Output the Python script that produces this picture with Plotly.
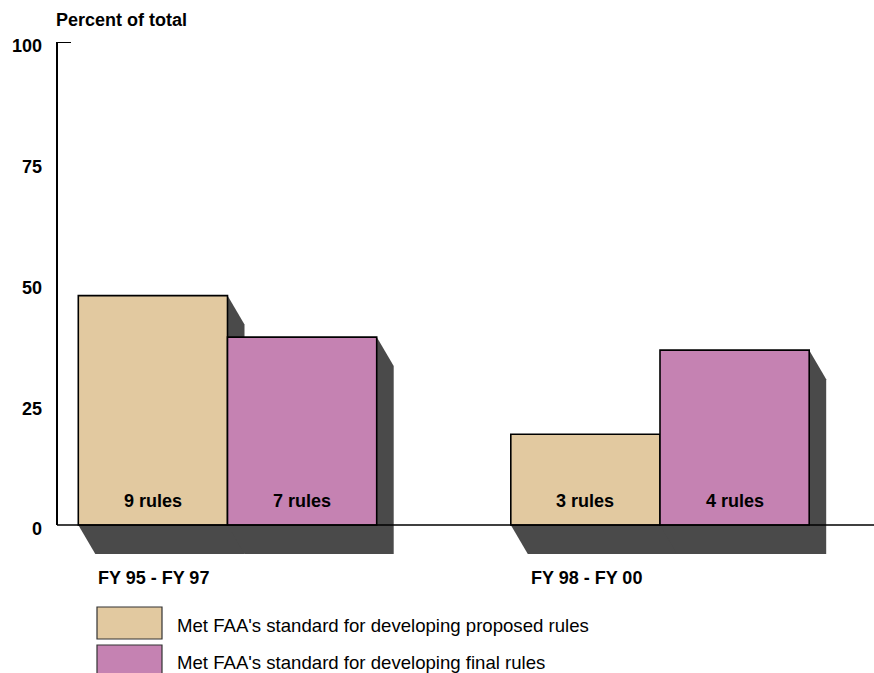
import plotly.graph_objects as go

# ---- data ----
periods = ["FY 95 - FY 97", "FY 98 - FY 00"]
proposed_pct = [47.5, 18.8]
final_pct = [38.9, 36.2]
proposed_rules = ["9 rules", "3 rules"]
final_rules = ["7 rules", "4 rules"]
series_names = ["Met FAA's standard for developing proposed rules",
                "Met FAA's standard for developing final rules"]
y_ticks = [0, 25, 50, 75, 100]

# ---- styling ----
W, H = 874, 673
ML, MR, MT, MB = 57, 0, 42, 113
TAN = "#E2C9A0"
PINK = "#C582B2"
SHADOW = "#4A4A4A"
FONT = "Liberation Sans, Arial, Helvetica, sans-serif"

plot_w = W - ML - MR
plot_h = H - MT - MB
zero_px = 525                     # pixel row of y=0
px_per_unit_y = (zero_px - MT) / 100.0
y_min = -(H - MB - zero_px) / px_per_unit_y

group_px = [227.5, 660.0]
px_per_unit_x = group_px[1] - group_px[0]
x_left = (ML - group_px[0]) / px_per_unit_x
x_right = (W - MR - group_px[0]) / px_per_unit_x
bar_w = 149.2 / px_per_unit_x

dx = 17 / px_per_unit_x
dy = 29 / px_per_unit_y

xs = list(range(len(periods)))

def px_to_paper_x(px):
    return (px - ML) / plot_w

def px_to_paper_y(py):
    return (H - MB - py) / plot_h

fig = go.Figure()
fig.add_trace(go.Bar(x=xs, y=proposed_pct, width=bar_w, offset=-bar_w,
                     marker=dict(color=TAN, line=dict(color="black", width=1.6)),
                     name=series_names[0], hoverinfo="skip"))
fig.add_trace(go.Bar(x=xs, y=final_pct, width=bar_w, offset=0,
                     marker=dict(color=PINK, line=dict(color="black", width=1.6)),
                     name=series_names[1], hoverinfo="skip"))

shapes = []
# shadows under each bar
for i in xs:
    for x0, top in ((i - bar_w, proposed_pct[i]), (i, final_pct[i])):
        x1 = x0 + bar_w
        path = (f"M {x0},0 L {x0+dx},{-dy} L {x1+dx},{-dy} L {x1+dx},{top-dy} "
                f"L {x1},{top} L {x0},{top} Z")
        shapes.append(dict(type="path", path=path, xref="x", yref="y",
                           fillcolor=SHADOW, line=dict(width=0), layer="below"))
# baseline
shapes.append(dict(type="line", xref="paper", yref="y", x0=0, x1=1, y0=0, y1=0,
                   line=dict(color="black", width=1.5), layer="above"))
# y axis line and top tick
shapes.append(dict(type="line", xref="paper", yref="y", x0=0, x1=0, y0=0, y1=100,
                   line=dict(color="black", width=2), layer="above"))
shapes.append(dict(type="line", xref="paper", yref="y", x0=0, x1=px_to_paper_x(71),
                   y0=100, y1=100, line=dict(color="black", width=2), layer="above"))

# legend boxes
for col, top_px in ((TAN, 607), (PINK, 645)):
    shapes.append(dict(type="rect", xref="paper", yref="paper",
                       x0=px_to_paper_x(97), x1=px_to_paper_x(162),
                       y0=px_to_paper_y(top_px), y1=px_to_paper_y(top_px + 32),
                       fillcolor=col, line=dict(color="#333333", width=1.2)))

annotations = []
bold18 = dict(family=FONT, size=18, color="black", weight="bold")
for i in xs:
    # bar labels
    annotations.append(dict(x=i - bar_w / 2, y=0, xref="x", yref="y", text=proposed_rules[i],
                            showarrow=False, yshift=24, yanchor="middle", font=bold18))
    annotations.append(dict(x=i + bar_w / 2, y=0, xref="x", yref="y", text=final_rules[i],
                            showarrow=False, yshift=24, yanchor="middle", font=bold18))
    # category labels
    annotations.append(dict(x=i - bar_w, y=px_to_paper_y(578), xref="x", yref="paper",
                            text=periods[i], showarrow=False, xanchor="left", xshift=18,
                            yanchor="middle", font=bold18))
# axis title
annotations.append(dict(x=px_to_paper_x(54), y=px_to_paper_y(20), xref="paper", yref="paper",
                        text="Percent of total", showarrow=False, xanchor="left",
                        yanchor="middle", font=bold18))
# legend texts
for name, cy in zip(series_names, (625, 662)):
    annotations.append(dict(x=px_to_paper_x(175), y=px_to_paper_y(cy), xref="paper",
                            yref="paper", text=name, showarrow=False, xanchor="left",
                            yanchor="middle",
                            font=dict(family=FONT, size=18.6, color="black")))

fig.update_layout(
    width=W, height=H,
    margin=dict(l=ML, r=MR, t=MT, b=MB),
    plot_bgcolor="white", paper_bgcolor="white",
    showlegend=False, barmode="overlay",
    shapes=shapes, annotations=annotations,
    xaxis=dict(range=[x_left, x_right], showgrid=False, zeroline=False,
               showticklabels=False, showline=False, ticks=""),
    yaxis=dict(range=[y_min, 100], tickvals=y_ticks, showgrid=False, zeroline=False,
               showline=False, ticks="", ticklabelstandoff=14, ticklabelshift=4,
               tickfont=dict(family=FONT, size=18, color="black", weight="bold")),
)

fig.write_html("out.html")
